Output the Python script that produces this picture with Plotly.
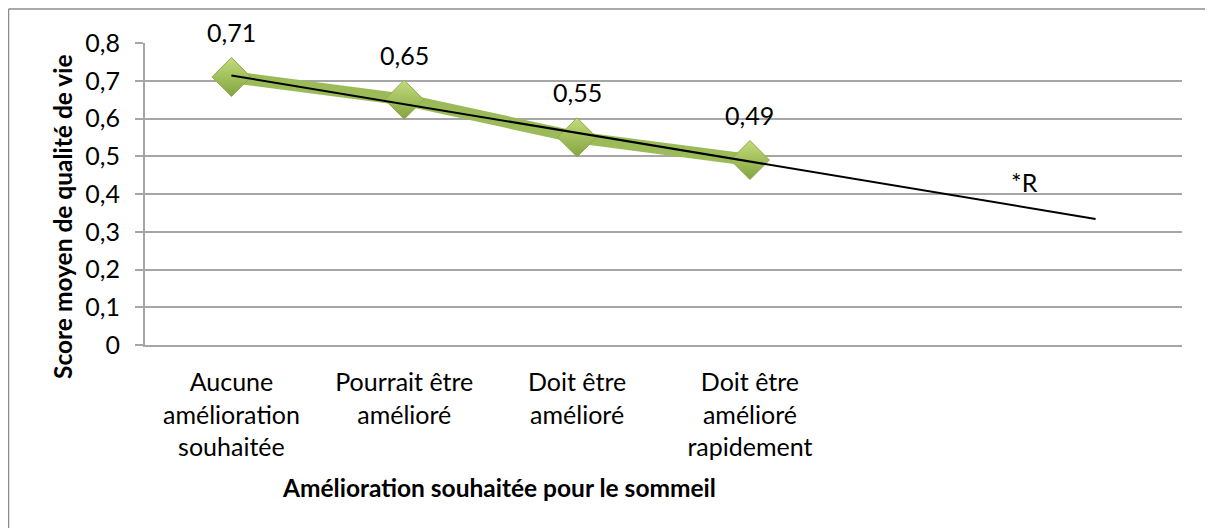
import numpy as np
import plotly.graph_objects as go

categories = ["Aucune<br>amélioration<br>souhaitée", "Pourrait être<br>amélioré",
              "Doit être<br>amélioré", "Doit être<br>amélioré<br>rapidement"]
scores = [0.71, 0.65, 0.55, 0.49]
value_labels = ["0,71", "0,65", "0,55", "0,49"]
n_slots = 6  # axis has two extra empty slots for the trendline forecast
y_ticks = [0, 0.1, 0.2, 0.3, 0.4, 0.5, 0.6, 0.7, 0.8]
y_ticktext = ["0", "0,1", "0,2", "0,3", "0,4", "0,5", "0,6", "0,7", "0,8"]

FONT = "Lato"
OFF = 8  # page body margin
W, H = 1213 - OFF, 528 - OFF
L, R, T, B = 145 - OFF, 31, 43 - OFF, 183
pw, ph = W - L - R, H - T - B

def px_x(p):
    return (p - OFF - L) / pw

def px_y(p):
    return (H - B - (p - OFF)) / ph

x = np.arange(1, len(scores) + 1)
slope, intercept = np.polyfit(x, scores, 1)
xt = np.array([1, n_slots])
yt = slope * xt + intercept

fig = go.Figure()
fig.add_trace(go.Scatter(
    x=x, y=scores, mode="lines+markers",
    line=dict(color="#9BBB59", width=12),
    marker=dict(symbol="diamond", size=30, color="#C2DC79",
                gradient=dict(type="vertical", color="#84A342"),
                line=dict(color="#8DAA4E", width=1)),
    hoverinfo="skip", showlegend=False))
fig.add_trace(go.Scatter(
    x=xt, y=yt, mode="lines", line=dict(color="black", width=2),
    hoverinfo="skip", showlegend=False))

annotations = []
for xi, yi, lab in zip(x, scores, value_labels):
    annotations.append(dict(x=xi, y=yi, xref="x", yref="y", text=lab, showarrow=False,
                            xanchor="center", yanchor="middle", yshift=45,
                            font=dict(family=FONT, size=25, color="black")))
annotations.append(dict(x=5.59, y=0.432, xref="x", yref="y", text="*R", showarrow=False,
                        xanchor="center", yanchor="middle",
                        font=dict(family=FONT, size=25, color="black")))
annotations.append(dict(x=px_x(499), y=px_y(488), xref="paper", yref="paper",
                        xanchor="center", yanchor="middle",
                        text="<b>Amélioration souhaitée pour le sommeil</b>", showarrow=False,
                        font=dict(family=FONT, size=24.5, color="black")))
annotations.append(dict(x=px_x(62), y=px_y(217), xref="paper", yref="paper", textangle=-90,
                        xanchor="center", yanchor="middle",
                        text="<b>Score moyen de qualité de vie</b>", showarrow=False,
                        font=dict(family=FONT, size=24.5, color="black")))

border = "#8C8C8C"
shapes = [
    dict(type="line", xref="paper", yref="paper", x0=px_x(8.5), x1=px_x(1213), y0=px_y(9), y1=px_y(9),
         line=dict(color=border, width=1.5)),
    dict(type="line", xref="paper", yref="paper", x0=px_x(8.5), x1=px_x(8.5), y0=px_y(9), y1=px_y(528),
         line=dict(color=border, width=1.5)),
]

fig.update_layout(
    width=W, height=H, margin=dict(l=L, r=R, t=T, b=B),
    paper_bgcolor="white", plot_bgcolor="white",
    font=dict(family=FONT, size=25, color="black"),
    annotations=annotations, shapes=shapes,
    xaxis=dict(range=[0.5, n_slots + 0.5], tickvals=list(x), ticktext=categories,
               showgrid=False, zeroline=False, showline=True, linecolor="#A6A6A6", linewidth=2,
               ticks="", ticklabelstandoff=14, tickfont=dict(family=FONT, size=25)),
    yaxis=dict(range=[0, 0.8], tickvals=y_ticks, ticktext=y_ticktext,
               showgrid=True, gridcolor="#A6A6A6", gridwidth=2, zeroline=False,
               showline=True, linecolor="#A6A6A6", linewidth=2,
               ticks="outside", ticklen=8, tickcolor="#A6A6A6", tickwidth=2,
               ticklabelstandoff=10, tickfont=dict(family=FONT, size=25)),
)

fig.write_html("out.html")
